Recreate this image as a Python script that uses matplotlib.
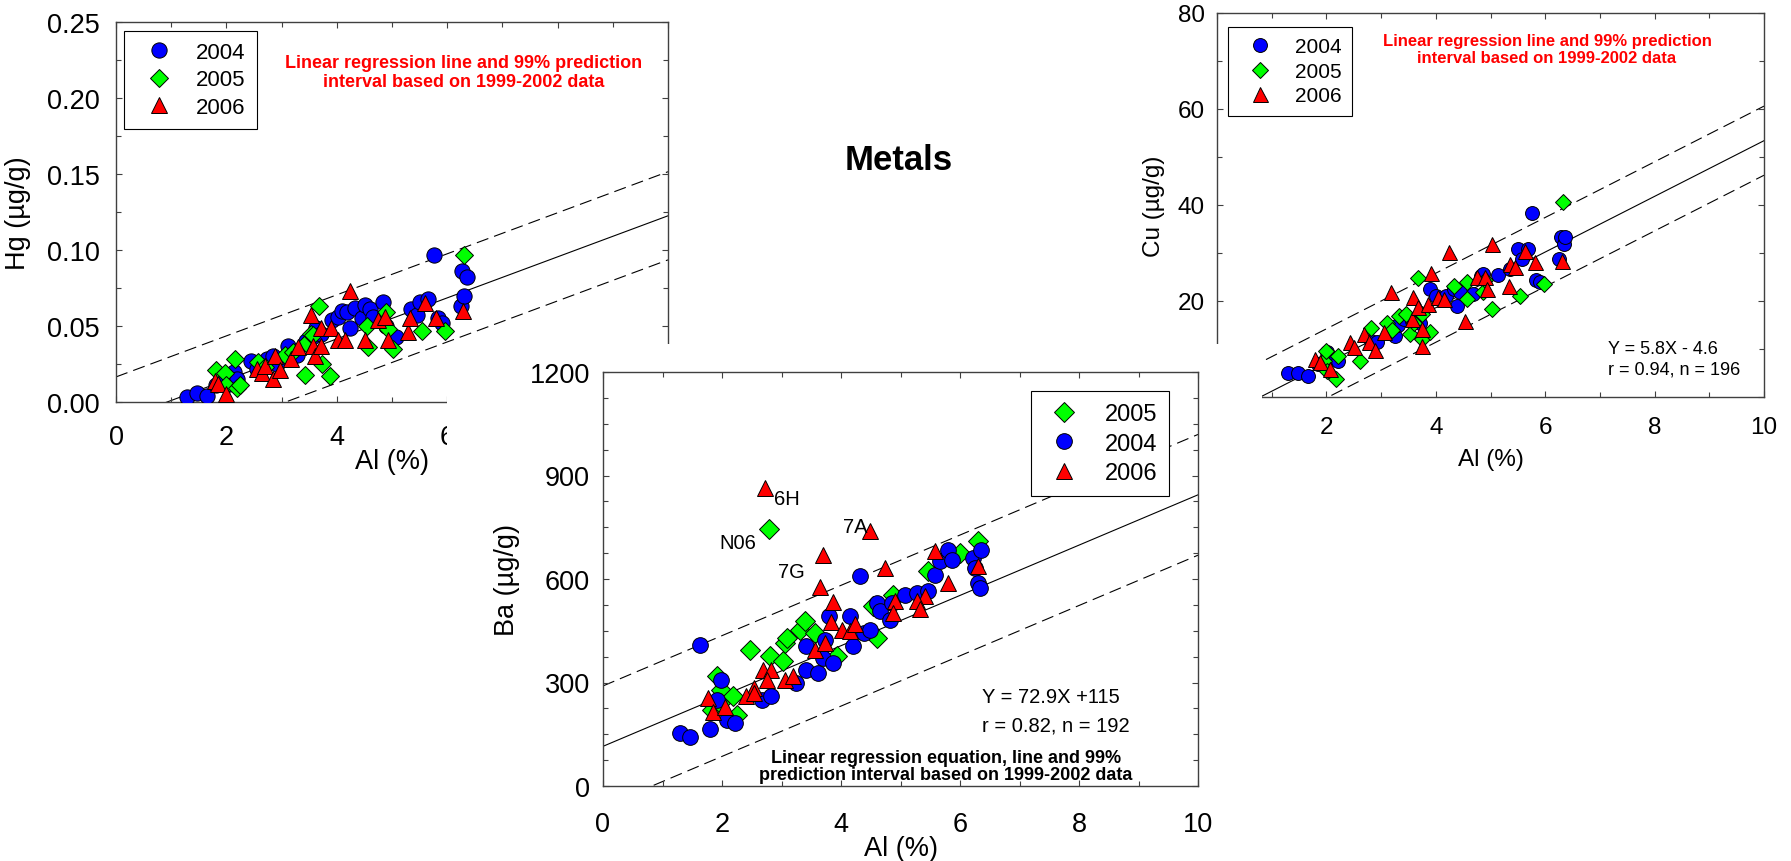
import matplotlib
matplotlib.use('Agg')
import matplotlib.pyplot as plt
from matplotlib.lines import Line2D
from matplotlib.patches import Rectangle
from matplotlib.ticker import MultipleLocator, FormatStrFormatter
import numpy as np

plt.rcParams['font.family'] = ['Liberation Sans', 'DejaVu Sans']

# ---------------- data ----------------
years = ['2004', '2005', '2006']

# Hg panel
hg_al_2004 = [1.28, 1.46, 1.64, 1.82, 1.95, 2.05, 2.14, 2.19, 2.45, 2.55, 2.73, 2.85, 2.91, 3.12, 3.27,
              3.45, 3.55, 3.63, 3.72, 3.91, 4.03, 4.10, 4.18, 4.24, 4.33, 4.45, 4.51, 4.60, 4.66, 4.84,
              4.90, 5.08, 5.35, 5.45, 5.51, 5.66, 5.76, 5.84, 5.90, 6.25, 6.27, 6.31, 6.36]
hg_2004 = [0.003, 0.006, 0.004, 0.011, 0.017, 0.012, 0.020, 0.015, 0.027, 0.022, 0.028, 0.030, 0.025, 0.037, 0.031,
           0.040, 0.043, 0.049, 0.045, 0.054, 0.056, 0.060, 0.059, 0.049, 0.062, 0.055, 0.064, 0.061, 0.056, 0.066,
           0.050, 0.043, 0.061, 0.057, 0.066, 0.068, 0.097, 0.055, 0.052, 0.063, 0.086, 0.070, 0.082]
hg_al_2005 = [1.82, 1.97, 2.00, 2.16, 2.20, 2.25, 2.57, 2.70, 3.06, 3.21, 3.42, 3.45, 3.54, 3.57, 3.67,
              3.73, 3.88, 4.54, 4.57, 4.90, 4.93, 5.02, 5.54, 5.96, 6.30]
hg_2005 = [0.021, 0.019, 0.011, 0.028, 0.009, 0.011, 0.026, 0.023, 0.031, 0.033, 0.018, 0.039, 0.045, 0.044, 0.063,
           0.025, 0.017, 0.050, 0.036, 0.059, 0.048, 0.035, 0.047, 0.047, 0.097]
hg_al_2006 = [1.80, 1.85, 2.00, 2.55, 2.64, 2.70, 2.85, 2.88, 2.97, 3.17, 3.29, 3.54, 3.57, 3.60, 3.72,
              3.72, 3.90, 4.02, 4.15, 4.24, 4.51, 4.75, 4.87, 4.93, 5.29, 5.32, 5.60, 5.79, 6.28]
hg_2006 = [0.014, 0.012, 0.005, 0.022, 0.019, 0.024, 0.015, 0.030, 0.021, 0.028, 0.036, 0.057, 0.037, 0.030, 0.049,
           0.037, 0.049, 0.041, 0.041, 0.073, 0.041, 0.054, 0.056, 0.041, 0.046, 0.055, 0.065, 0.055, 0.060]

# Cu panel
cu_al_2004 = [1.30, 1.48, 1.67, 1.84, 2.02, 2.18, 2.21, 2.81, 2.92, 3.26, 3.30, 3.41, 3.56, 3.71, 3.90,
              4.00, 4.19, 4.34, 4.38, 4.45, 4.68, 4.83, 4.87, 5.13, 5.35, 5.50, 5.58, 5.69, 5.76, 5.84,
              5.91, 6.25, 6.29, 6.35, 6.36]
cu_2004 = [5.0, 5.0, 4.3, 6.9, 9.3, 7.9, 7.6, 11.7, 11.4, 12.8, 14.9, 16.3, 15.9, 15.5, 22.5,
           21.1, 21.1, 22.5, 19.0, 21.8, 21.5, 25.3, 25.7, 25.5, 26.7, 30.8, 28.7, 30.8, 38.3, 24.3,
           24.0, 28.7, 33.3, 31.9, 33.3]
cu_al_2005 = [1.95, 1.99, 2.02, 2.17, 2.21, 2.62, 2.81, 3.11, 3.20, 3.33, 3.45, 3.52, 3.60, 3.67, 3.74,
              3.74, 3.90, 4.34, 4.57, 4.57, 4.87, 4.90, 5.02, 5.54, 5.97, 6.33]
cu_2005 = [7.5, 9.6, 5.5, 3.8, 8.6, 7.4, 14.3, 15.5, 14.0, 16.9, 17.3, 13.1, 15.5, 24.7, 17.3,
           12.1, 13.5, 23.2, 23.9, 20.4, 21.8, 24.3, 18.3, 21.1, 23.5, 40.6]
cu_al_2006 = [1.80, 1.88, 2.06, 2.43, 2.50, 2.69, 2.77, 2.88, 3.06, 3.18, 3.56, 3.59, 3.67, 3.74, 3.74,
              3.86, 3.91, 4.04, 4.15, 4.25, 4.53, 4.75, 4.90, 4.94, 5.02, 5.33, 5.36, 5.44, 5.63, 5.81, 6.31]
cu_2006 = [7.9, 7.2, 5.8, 11.4, 10.4, 13.2, 11.4, 9.7, 13.5, 21.8, 16.3, 20.8, 18.7, 14.2, 10.7,
           19.4, 25.9, 20.8, 20.4, 30.2, 15.9, 24.9, 24.9, 22.5, 31.9, 23.2, 27.7, 27.0, 30.5, 28.1, 28.4]

# Ba panel
ba_al_2004 = [1.29, 1.46, 1.63, 1.80, 1.91, 1.99, 2.08, 2.22, 2.67, 2.83, 3.25, 3.42, 3.42, 3.62, 3.70,
              3.73, 3.79, 3.87, 4.15, 4.21, 4.32, 4.38, 4.49, 4.60, 4.66, 4.82, 4.85, 5.08, 5.27, 5.47,
              5.58, 5.66, 5.80, 5.86, 6.22, 6.25, 6.31, 6.33, 6.36]
ba_2004 = [153, 143, 409, 165, 250, 308, 192, 182, 250, 260, 298, 337, 405, 327, 371,
           424, 492, 356, 492, 405, 610, 443, 453, 531, 506, 482, 531, 555, 560, 565,
           613, 652, 685, 656, 661, 632, 589, 575, 685]
ba_al_2005 = [2.79, 1.83, 1.91, 1.97, 1.99, 2.19, 2.25, 2.47, 2.81, 3.03, 3.06, 3.09, 3.31, 3.40, 3.56,
              3.93, 4.54, 4.60, 4.88, 5.47, 6.00, 6.31]
ba_2005 = [745, 221, 318, 240, 279, 260, 205, 395, 376, 361, 414, 429, 453, 477, 443,
           376, 521, 429, 555, 622, 676, 710]
ba_al_2006 = [2.72, 4.49, 3.70, 4.74, 3.65, 3.87, 5.58, 6.31, 5.80, 5.41, 5.27, 5.33, 4.91, 4.88, 3.84,
              4.01, 4.15, 4.24, 3.56, 3.73, 2.69, 2.83, 2.75, 3.06, 3.20, 2.53, 2.41, 2.53, 1.77, 1.85, 2.05]
ba_2006 = [865, 739, 671, 633, 578, 533, 681, 637, 589, 552, 536, 512, 536, 502, 474,
           453, 448, 470, 395, 414, 337, 337, 308, 308, 318, 284, 260, 269, 254, 215, 230]

# labelled outliers in Ba panel: (label, year, index in that year's arrays)
ba_labels = ['6H', 'N06', '7G', '7A']
ba_label_year = ['2006', '2005', '2006', '2006']
ba_label_index = [0, 0, 2, 1]

# regression lines (1999-2002): intercept, slope, 99% PI half width
hg_fit = (-0.0125, 0.0135, 0.029)
cu_fit = (-4.6, 5.8, 7.2)
ba_fit = (115.0, 72.9, 175.0)

# ---------------- style ----------------
COL = {'2004': '#0000ff', '2005': '#00ff00', '2006': '#ff0000'}
MK = {'2004': 'o', '2005': 'D', '2006': '^'}
MS = {'2004': 1.0, '2005': 0.86, '2006': 1.08}
SPC = '#404040'

W, H = 1791, 862
fig = plt.figure(figsize=(W / 100, H / 100), dpi=100)
fig.patch.set_facecolor('white')


def px_rect(x0, y0, x1, y1):
    return [x0 / W, 1 - y1 / H, (x1 - x0) / W, (y1 - y0) / H]


def style_axes(ax, xlim, ylim, xmaj, xmin, ymaj, ymin, fs, xpad, ypad):
    ax.set_xlim(*xlim)
    ax.set_ylim(*ylim)
    ax.xaxis.set_major_locator(MultipleLocator(xmaj))
    ax.xaxis.set_minor_locator(MultipleLocator(xmin))
    ax.yaxis.set_major_locator(MultipleLocator(ymaj))
    ax.yaxis.set_minor_locator(MultipleLocator(ymin))
    ax.tick_params(which='both', direction='in', top=True, right=True,
                   color=SPC, width=0.8, labelsize=fs, labelcolor='black')
    ax.tick_params(which='major', length=4)
    ax.tick_params(which='minor', length=3.5)
    ax.tick_params(axis='x', which='both', pad=xpad)
    ax.tick_params(axis='y', which='both', pad=ypad)
    for s in ax.spines.values():
        s.set_color(SPC)
        s.set_linewidth(1.0)
    ax.set_facecolor('white')


def draw_fit(ax, fit):
    a, b, hw = fit
    xs = np.array([0.0, 10.0])
    ax.plot(xs, a + b * xs, color='black', lw=0.8, zorder=1)
    for sgn in (1, -1):
        ax.plot(xs, a + b * xs + sgn * hw, color='black', lw=0.8, dashes=(11, 5.5), zorder=1)


def scatter(ax, x, y, yr, ms, z):
    ax.plot(x, y, linestyle='none', marker=MK[yr], markersize=ms * MS[yr],
            markerfacecolor=COL[yr], markeredgecolor='black', markeredgewidth=0.7, zorder=z)


def legend(ax, order, fs, ms, anchor, loc, hl, htp, ls):
    handles = [Line2D([], [], linestyle='none', marker=MK[y], markersize=ms * MS[y],
                      markerfacecolor=COL[y], markeredgecolor='black', markeredgewidth=0.7)
               for y in order]
    leg = ax.legend(handles, order, loc=loc, bbox_to_anchor=anchor, bbox_transform=ax.transAxes,
                    frameon=True, fancybox=False, edgecolor='black', fontsize=fs, borderpad=0.5,
                    handlelength=hl, handletextpad=htp, labelspacing=ls, borderaxespad=0,
                    framealpha=1)
    leg.get_frame().set_linewidth(0.8)
    leg.set_zorder(10)


# ---------------- Hg panel ----------------
ax_hg = fig.add_axes(px_rect(116, 23, 668, 403), zorder=0)
style_axes(ax_hg, (0, 10), (0, 0.25), 2, 1, 0.05, 0.025, 19.5, 15.5, 11.5)
ax_hg.yaxis.set_major_formatter(FormatStrFormatter('%.2f'))
draw_fit(ax_hg, hg_fit)
scatter(ax_hg, hg_al_2004, hg_2004, '2004', 11.0, 3)
scatter(ax_hg, hg_al_2005, hg_2005, '2005', 11.0, 4)
scatter(ax_hg, hg_al_2006, hg_2006, '2006', 11.0, 5)
ax_hg.set_ylabel('Hg (µg/g)', fontsize=19.5)
ax_hg.yaxis.set_label_coords(-0.154, 0.5)
ax_hg.set_xlabel('Al (%)', fontsize=19.5)
ax_hg.xaxis.set_label_coords(0.5, -0.122)
legend(ax_hg, ['2004', '2005', '2006'], 16, 11.0, ((124 - 116) / 552, 1 - (32 - 23) / 380),
       'upper left', 2.15, 0.6, 0.28)
ax_hg.text((464 - 116) / 552, 1 - (73 - 23) / 380,
           'Linear regression line and 99% prediction\ninterval based on 1999-2002 data',
           transform=ax_hg.transAxes, ha='center', va='center', color='#ff0000',
           fontsize=13, fontweight='bold', linespacing=1.1)

# ---------------- Cu panel ----------------
ax_cu = fig.add_axes(px_rect(1217, 14, 1764, 398), zorder=0)
style_axes(ax_cu, (0, 10), (0, 80), 2, 1, 20, 10, 17.5, 14, 8.6)
draw_fit(ax_cu, cu_fit)
scatter(ax_cu, cu_al_2004, cu_2004, '2004', 10.0, 3)
scatter(ax_cu, cu_al_2005, cu_2005, '2005', 10.0, 4)
scatter(ax_cu, cu_al_2006, cu_2006, '2006', 10.0, 5)
ax_cu.set_ylabel('Cu (µg/g)', fontsize=17.5)
ax_cu.yaxis.set_label_coords(-0.095, 0.5)
ax_cu.set_xlabel('Al (%)', fontsize=17.5)
ax_cu.xaxis.set_label_coords(0.5, -0.133)
legend(ax_cu, ['2004', '2005', '2006'], 15, 10.0, ((1228 - 1217) / 547, 1 - (28 - 14) / 384),
       'upper left', 2.08, 0.64, 0.26)
ax_cu.text((1547 - 1217) / 547, 1 - (50 - 14) / 384,
           'Linear regression line and 99% prediction\ninterval based on 1999-2002 data',
           transform=ax_cu.transAxes, ha='center', va='center', color='#ff0000',
           fontsize=12, fontweight='bold', linespacing=1.1)
ax_cu.text((1608 - 1217) / 547, (398 - 349) / 384, 'Y = 5.8X - 4.6',
           transform=ax_cu.transAxes, ha='left', va='center', fontsize=13)
ax_cu.text((1608 - 1217) / 547, (398 - 370) / 384, 'r = 0.94, n = 196',
           transform=ax_cu.transAxes, ha='left', va='center', fontsize=13)

# ---------------- white cover behind the Ba panel ----------------
cover = Rectangle((447 / W, 0), (1262 - 447) / W, 1 - 345 / H, transform=fig.transFigure,
                  facecolor='white', edgecolor='none', zorder=1)
fig.patches.append(cover)

# ---------------- Ba panel ----------------
ax_ba = fig.add_axes(px_rect(603, 373, 1198, 787), zorder=2)
style_axes(ax_ba, (0, 10), (0, 1200), 2, 1, 300, 75, 19.5, 18, 9.4)
draw_fit(ax_ba, ba_fit)
scatter(ax_ba, ba_al_2005, ba_2005, '2005', 11.3, 3)
scatter(ax_ba, ba_al_2004, ba_2004, '2004', 11.3, 4)
scatter(ax_ba, ba_al_2006, ba_2006, '2006', 11.3, 5)
ax_ba.set_ylabel('Ba (µg/g)', fontsize=19.5)
ax_ba.yaxis.set_label_coords(-0.139, 0.5)
ax_ba.set_xlabel('Al (%)', fontsize=19.5)
ax_ba.xaxis.set_label_coords(0.5, -0.118)
legend(ax_ba, ['2005', '2004', '2006'], 17, 11.3, ((1169 - 603) / 595, 1 - (392 - 373) / 414),
       'upper right', 1.8, 0.8, 0.33)
ax_ba.text((982 - 603) / 595, (787 - 698) / 414, 'Y = 72.9X +115',
           transform=ax_ba.transAxes, ha='left', va='center', fontsize=14.5)
ax_ba.text((982 - 603) / 595, (787 - 726) / 414, 'r = 0.82, n = 192',
           transform=ax_ba.transAxes, ha='left', va='center', fontsize=14.5)
ax_ba.text((946 - 603) / 595, (787 - 767) / 414,
           'Linear regression equation, line and 99%\nprediction interval based on 1999-2002 data',
           transform=ax_ba.transAxes, ha='center', va='center', color='black',
           fontsize=13, fontweight='bold', linespacing=1.05)

ba_x = {'2004': ba_al_2004, '2005': ba_al_2005, '2006': ba_al_2006}
ba_y = {'2004': ba_2004, '2005': ba_2005, '2006': ba_2006}
label_offsets = {'6H': (6.3, -8.2, 'left'), 'N06': (-9.5, -9.7, 'right'),
                 '7G': (-13.0, -12.2, 'right'), '7A': (-2.2, 3.3, 'right')}
for lab, yr, idx in zip(ba_labels, ba_label_year, ba_label_index):
    dx, dy, ha = label_offsets[lab]
    ax_ba.annotate(lab, xy=(ba_x[yr][idx], ba_y[yr][idx]), xytext=(dx, dy),
                   textcoords='offset points', ha=ha, va='center', fontsize=14.5, zorder=6)

# ---------------- title ----------------
fig.text(899 / W, 1 - 160 / H, 'Metals', ha='center', va='center', fontsize=25, fontweight='bold')

fig.savefig('out.png', dpi=100, facecolor='white')
